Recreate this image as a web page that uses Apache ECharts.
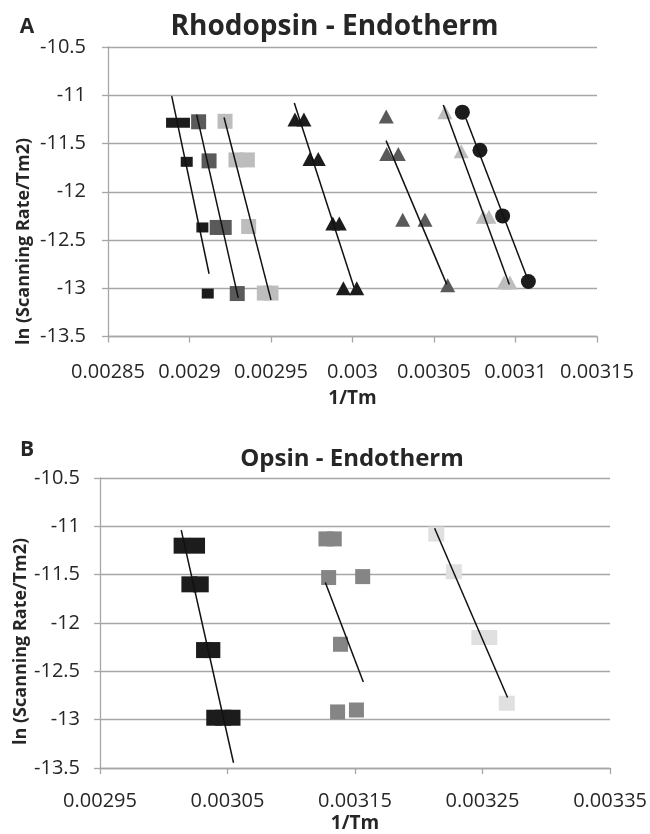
<!DOCTYPE html>
<html><head><meta charset="utf-8">
<script src="https://cdn.jsdelivr.net/npm/echarts@6/dist/echarts.min.js"></script>
<style>html,body{margin:0;padding:0;background:#fff}#c{width:650px;height:834px}</style>
</head><body><div id="c"></div>
<script>
// ---------- Panel A: Rhodopsin - Endotherm ----------
const topXLabels = ['0.00285','0.0029','0.00295','0.003','0.00305','0.0031','0.00315'];
const botXLabels = ['0.00295','0.00305','0.00315','0.00325','0.00335'];

const aBlackSqX = [0.0028893, 0.0028966, 0.0028983, 0.0029079, 0.0029112];
const aBlackSqY = [-11.285, -11.285, -11.69, -12.37, -13.055];
const aBlackSqFitX = [0.0028891, 0.002912];
const aBlackSqFitY = [-11.01, -12.85];

const aGraySqX = [0.0029056, 0.002912, 0.002917, 0.0029213, 0.0029293];
const aGraySqY = [-11.275, -11.68, -12.37, -12.37, -13.055];
const aGraySqFitX = [0.0029044, 0.0029299];
const aGraySqFitY = [-11.2, -13.1];

const aLightSqX = [0.0029218, 0.0029285, 0.0029355, 0.0029363, 0.0029459, 0.00295];
const aLightSqY = [-11.27, -11.67, -11.67, -12.36, -13.05, -13.05];
const aLightSqFitX = [0.0029212, 0.00295];
const aLightSqFitY = [-11.23, -13.12];

const aBlackTriX = [0.0029647, 0.0029702, 0.0029739, 0.002979, 0.0029879, 0.0029919, 0.0029944, 0.0030026];
const aBlackTriY = [-11.25, -11.25, -11.66, -11.66, -12.33, -12.33, -13.0, -13.0];
const aBlackTriFitX = [0.0029643, 0.0030009];
const aBlackTriFitY = [-11.08, -12.99];

const aGrayTriX = [0.0030207, 0.003021, 0.0030281, 0.0030308, 0.0030445, 0.0030584];
const aGrayTriY = [-11.22, -11.61, -11.61, -12.29, -12.29, -12.97];
const aGrayTriFitX = [0.0030206, 0.0030578];
const aGrayTriFitY = [-11.47, -12.96];

const aLightTriX = [0.0030567, 0.0030667, 0.0030802, 0.0030837, 0.003093, 0.0030966];
const aLightTriY = [-11.175, -11.58, -12.26, -12.26, -12.94, -12.94];
const aLightTriFitX = [0.0030557, 0.0030962];
const aLightTriFitY = [-11.1, -12.96];

const aCircleX = [0.0030674, 0.0030782, 0.0030921, 0.0031079];
const aCircleY = [-11.175, -11.57, -12.25, -12.93];
const aCircleFitX = [0.0030696, 0.0031069];
const aCircleFitY = [-11.24, -12.88];

// ---------- Panel B: Opsin - Endotherm ----------
const bBlackX = [0.0030140, 0.0030261, 0.0030201, 0.003029, 0.0030316, 0.0030381, 0.0030396, 0.0030466, 0.0030539];
const bBlackY = [-11.2, -11.2, -11.6, -11.6, -12.28, -12.28, -12.98, -12.98, -12.98];
const bBlackFitX = [0.0030137, 0.0030547];
const bBlackFitY = [-11.04, -13.446];

const bGrayX = [0.0031272, 0.0031337, 0.0031293, 0.003156, 0.0031386, 0.0031363, 0.0031511];
const bGrayY = [-11.13, -11.13, -11.53, -11.52, -12.22, -12.92, -12.90];
const bGrayFitX = [0.0031267, 0.0031565];
const bGrayFitY = [-11.58, -12.61];

const bLightX = [0.0032137, 0.0032275, 0.0032475, 0.0032553, 0.003269];
const bLightY = [-11.08, -11.47, -12.15, -12.15, -12.83];
const bLightFitX = [0.0032124, 0.0032696];
const bLightFitY = [-11.02, -12.77];

// ---------- helpers ----------
const FONT = '"Open Sans", "Liberation Sans", sans-serif';
const GRID = '#a6a6a6';
const toA = x => x * 1e5 - 285;   // axis units for panel A (0..30, step 5)
const toB = x => x * 1e5 - 295;   // axis units for panel B (0..40, step 10)
const pts = (xs, ys, f) => xs.map((x, i) => [f(x), ys[i]]);

function scatter(idx, xs, ys, f, symbol, size, color) {
  return { type: 'scatter', xAxisIndex: idx, yAxisIndex: idx, data: pts(xs, ys, f),
    symbol: symbol, symbolSize: size, itemStyle: { color: color, opacity: 1 },
    emphasis: { disabled: true }, silent: true, z: 2 };
}
function fit(idx, xs, ys, f) {
  return { type: 'line', xAxisIndex: idx, yAxisIndex: idx, data: pts(xs, ys, f),
    symbol: 'none', lineStyle: { color: '#111', width: 1.5 }, silent: true, z: 3, animation: false };
}
function xAxis(idx, max, interval, labels, margin, nameGap) {
  return { gridIndex: idx, type: 'value', min: 0, max: max, interval: interval,
    axisLine: { show: true, onZero: false, lineStyle: { color: GRID, width: 1.3 } },
    axisTick: { show: true, inside: false, length: 6, lineStyle: { color: GRID, width: 1.3 } },
    axisLabel: { formatter: v => labels[Math.round(v / interval)], fontFamily: FONT, fontSize: 20,
      color: '#262626', margin: margin },
    splitLine: { show: false },
    name: '1/Tm', nameLocation: 'middle', nameGap: nameGap,
    nameTextStyle: { fontFamily: FONT, fontWeight: 'bold', fontSize: 19, color: '#262626' } };
}
function yAxis(idx, margin) {
  return { gridIndex: idx, type: 'value', min: -13.5, max: -10.5, interval: 0.5,
    axisLine: { show: true, lineStyle: { color: GRID, width: 1.3 } },
    axisTick: { show: true, inside: false, length: 6, lineStyle: { color: GRID, width: 1.3 } },
    axisLabel: { fontFamily: FONT, fontSize: 20, color: '#262626', margin: margin },
    splitLine: { show: true, lineStyle: { color: GRID, width: 1.3 } } };
}
const txt = (text, x, y, size) => ({ type: 'text', x: x, y: y,
  style: { text: text, font: 'bold ' + size + 'px ' + FONT, fill: '#262626',
    textAlign: 'center', textVerticalAlign: 'middle' } });

const chart = echarts.init(document.getElementById('c'));
chart.setOption({
  animation: false,
  backgroundColor: '#fff',
  grid: [
    { left: 108, right: 53, top: 47, bottom: 497.5, containLabel: false },
    { left: 100, right: 36.7, top: 478, bottom: 62.3, containLabel: false }
  ],
  xAxis: [ xAxis(0, 30, 5, topXLabels, 26, 53), xAxis(1, 40, 10, botXLabels, 23, 46) ],
  yAxis: [ yAxis(0, 22), yAxis(1, 20) ],
  graphic: [
    txt('A', 27, 27, 21),
    txt('B', 27, 450, 21),
    txt('Rhodopsin - Endotherm', 334.5, 27, 28),
    txt('Opsin - Endotherm', 352, 459, 24),
    { type: 'text', x: 24, y: 345, rotation: Math.PI / 2,
      style: { text: 'ln (Scanning Rate/Tm2)', font: 'bold 18px ' + FONT, fill: '#262626',
        textAlign: 'left', textVerticalAlign: 'middle' } },
    { type: 'text', x: 20.5, y: 745, rotation: Math.PI / 2,
      style: { text: 'ln (Scanning Rate/Tm2)', font: 'bold 18px ' + FONT, fill: '#262626',
        textAlign: 'left', textVerticalAlign: 'middle' } }
  ],
  series: [
    scatter(0, aBlackSqX, aBlackSqY, toA, 'rect', [12, 10], '#1c1c1c'),
    scatter(0, aGraySqX, aGraySqY, toA, 'rect', [15, 15], '#5a5a5a'),
    scatter(0, aLightSqX, aLightSqY, toA, 'rect', [15, 15], '#bdbdbd'),
    scatter(0, aBlackTriX, aBlackTriY, toA, 'triangle', [15, 14], '#1c1c1c'),
    scatter(0, aGrayTriX, aGrayTriY, toA, 'triangle', [15, 14], '#5a5a5a'),
    scatter(0, aLightTriX, aLightTriY, toA, 'triangle', [15, 14], '#bdbdbd'),
    scatter(0, aCircleX, aCircleY, toA, 'circle', 15, '#1c1c1c'),
    fit(0, aBlackSqFitX, aBlackSqFitY, toA),
    fit(0, aGraySqFitX, aGraySqFitY, toA),
    fit(0, aLightSqFitX, aLightSqFitY, toA),
    fit(0, aBlackTriFitX, aBlackTriFitY, toA),
    fit(0, aGrayTriFitX, aGrayTriFitY, toA),
    fit(0, aLightTriFitX, aLightTriFitY, toA),
    fit(0, aCircleFitX, aCircleFitY, toA),
    scatter(1, bBlackX, bBlackY, toB, 'rect', [16, 16], '#1c1c1c'),
    scatter(1, bGrayX, bGrayY, toB, 'rect', [15, 15], '#858585'),
    scatter(1, bLightX, bLightY, toB, 'rect', [16, 15], '#e0e0e0'),
    fit(1, bBlackFitX, bBlackFitY, toB),
    fit(1, bGrayFitX, bGrayFitY, toB),
    fit(1, bLightFitX, bLightFitY, toB)
  ]
});
</script></body></html>
